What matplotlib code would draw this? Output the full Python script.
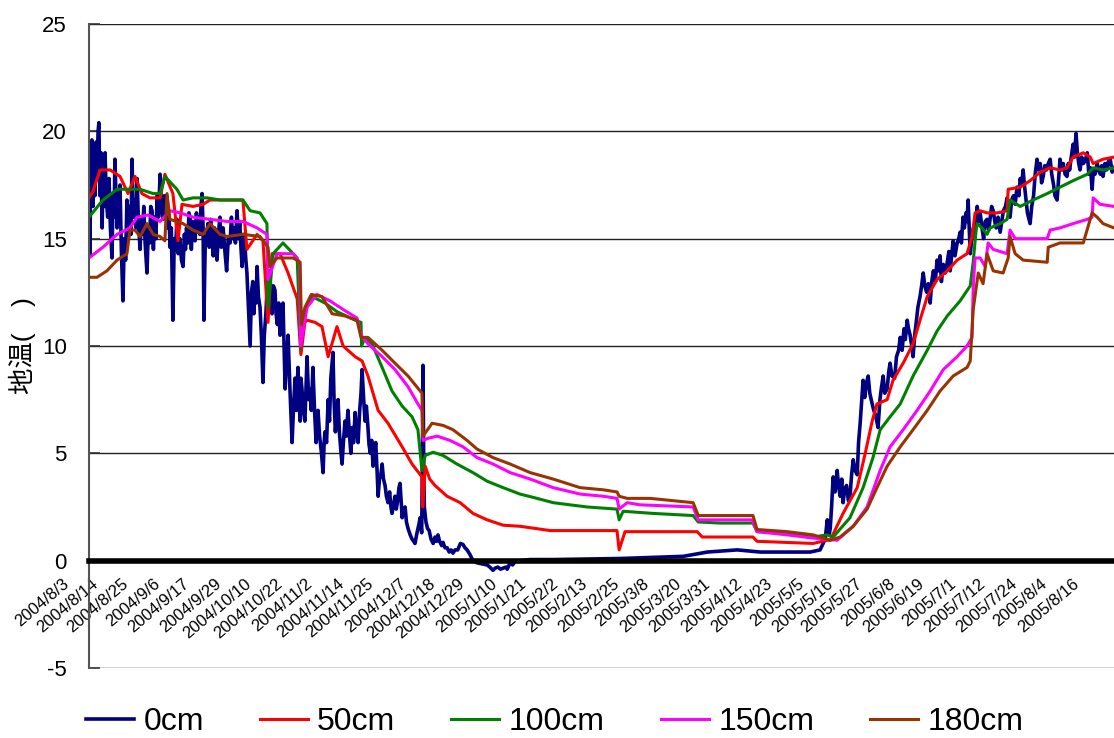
import numpy as np
import pandas as pd
import matplotlib
matplotlib.use('Agg')
import matplotlib.pyplot as plt
import matplotlib.transforms as mtrans

plt.rcParams['font.family'] = ['Liberation Sans', 'Noto Sans CJK JP', 'DejaVu Sans']
plt.rcParams['axes.unicode_minus'] = False

# soil temperature at 5 depths, (days since 2004/8/3, deg C)
start = '2004-08-03'

obs_0cm = [
    (0.0, 16.0), (0.3, 14.2), (0.7, 18.5), (1.1, 19.6), (1.5, 16.5), (1.9, 18.8), (2.2, 17.0), (2.6, 19.5),
    (3.0, 18.0), (3.4, 20.0), (3.7, 20.4), (4.1, 17.0), (4.5, 19.0), (4.9, 15.5), (5.3, 18.0), (5.7, 16.5),
    (6.0, 19.0), (6.5, 16.8), (7.0, 16.0), (7.5, 17.8), (8.0, 15.5), (8.6, 14.1), (9.0, 17.0), (9.4, 16.0),
    (9.7, 18.7), (10.1, 17.0), (10.5, 15.5), (11.0, 16.5), (11.6, 17.5), (12.1, 14.5), (12.7, 12.1),
    (13.2, 15.0), (13.7, 14.0), (14.2, 16.8), (14.7, 15.0), (15.2, 16.5), (15.7, 15.2), (16.1, 18.7),
    (16.6, 16.0), (17.2, 16.8), (17.6, 15.5), (18.0, 17.8), (18.5, 15.8), (19.1, 14.5), (19.6, 16.0),
    (20.0, 15.2), (20.5, 16.5), (21.0, 14.8), (21.7, 13.4), (22.2, 15.5), (22.7, 14.8), (23.1, 16.5),
    (23.6, 16.3), (24.1, 14.5), (24.5, 16.0), (25.0, 15.0), (25.5, 17.0), (26.0, 16.0), (26.6, 18.0),
    (27.1, 16.5), (27.7, 15.9), (28.2, 17.0), (28.6, 16.2), (29.0, 17.0), (29.5, 15.5), (30.0, 16.0),
    (30.3, 14.6), (30.8, 15.5), (31.4, 11.2), (31.9, 15.0), (32.4, 14.5), (32.9, 15.9), (33.4, 14.3),
    (34.0, 15.0), (34.6, 14.0), (35.2, 13.7), (35.7, 15.2), (36.1, 14.5), (36.5, 15.5), (37.0, 14.8),
    (37.4, 16.2), (37.8, 16.0), (38.3, 14.5), (38.8, 15.8), (39.2, 15.0), (39.7, 14.9), (40.2, 16.2),
    (40.6, 15.3), (41.0, 16.0), (41.5, 15.2), (41.9, 16.5), (42.3, 17.1), (42.7, 15.5), (43.0, 11.2),
    (43.5, 14.8), (44.0, 15.0), (44.5, 15.7), (45.0, 14.6), (45.5, 15.9), (46.0, 15.0), (46.5, 14.2),
    (47.0, 15.5), (47.5, 14.5), (47.9, 14.0), (48.4, 15.2), (49.0, 16.0), (49.5, 14.6), (50.2, 15.5),
    (50.8, 14.5), (51.5, 13.5), (52.1, 15.0), (52.8, 14.8), (53.3, 16.0), (53.8, 15.0), (54.3, 15.5),
    (54.8, 14.8), (55.4, 16.3), (55.9, 15.0), (56.4, 15.8), (56.9, 14.5), (57.3, 13.7), (57.8, 15.2),
    (58.2, 15.0), (58.7, 14.0), (59.1, 13.4), (59.6, 12.0), (60.3, 10.0), (60.8, 12.5), (61.3, 13.0),
    (61.7, 11.5), (62.1, 12.9), (62.5, 12.0), (62.9, 13.7), (63.4, 12.3), (64.0, 11.8), (64.5, 10.5),
    (65.1, 8.3), (65.6, 10.5), (66.2, 11.5), (66.7, 12.8), (67.2, 12.0), (67.7, 13.5), (68.1, 12.2),
    (68.5, 11.5), (69.0, 12.8), (69.6, 12.6), (70.0, 11.5), (70.5, 11.0), (71.0, 12.0), (71.5, 10.5),
    (72.0, 11.5), (72.6, 12.0), (73.0, 10.0), (73.4, 8.0), (74.0, 9.5), (74.5, 10.5), (75.2, 8.0),
    (76.0, 5.5), (76.5, 7.0), (77.1, 8.5), (77.6, 7.0), (78.2, 9.0), (78.6, 7.5), (79.0, 6.5),
    (79.3, 8.5), (79.7, 8.0), (80.2, 7.0), (80.8, 6.5), (81.2, 8.0), (81.6, 9.5), (82.2, 7.5),
    (82.7, 8.0), (83.2, 7.0), (83.8, 9.0), (84.4, 7.0), (85.0, 5.5), (85.3, 6.5), (85.7, 7.0),
    (86.3, 5.8), (87.0, 5.0), (87.6, 4.1), (88.0, 5.5), (88.3, 6.0), (88.9, 5.5), (89.5, 7.5),
    (90.0, 6.5), (90.5, 8.5), (91.3, 9.7), (91.7, 7.5), (92.2, 6.0), (92.7, 6.8), (93.2, 7.5),
    (93.7, 6.0), (94.2, 5.2), (94.7, 4.5), (95.2, 5.5), (95.8, 6.5), (96.3, 5.8), (96.9, 7.0),
    (97.4, 6.0), (98.0, 5.0), (98.5, 6.2), (99.0, 5.5), (99.6, 6.9), (100.1, 6.0), (100.7, 5.5),
    (101.3, 7.0), (101.8, 7.8), (102.2, 8.9), (102.8, 7.5), (103.3, 6.5), (103.8, 7.2), (104.4, 6.2),
    (104.8, 5.4), (105.3, 5.0), (105.8, 5.6), (106.3, 4.4), (106.8, 5.0), (107.3, 5.5), (107.8, 4.2),
    (108.2, 3.0), (108.7, 3.8), (109.2, 4.0), (109.7, 4.5), (110.2, 3.8), (110.8, 3.5), (111.3, 3.0),
    (111.9, 2.7), (112.5, 3.2), (113.0, 2.5), (113.4, 2.2), (114.0, 2.6), (114.5, 3.0), (115.0, 2.4),
    (115.5, 2.8), (116.0, 3.4), (116.4, 3.6), (116.8, 2.8), (117.2, 2.0), (117.7, 2.4), (118.3, 2.5),
    (118.8, 1.8), (119.4, 1.5), (120.2, 1.2), (120.9, 1.0), (121.5, 0.9), (122.0, 0.8), (122.6, 1.2),
    (123.1, 1.5), (123.5, 1.7), (123.9, 2.0), (124.5, 1.3), (124.8, 5.0), (125.0, 9.1), (125.3, 4.0),
    (125.5, 2.5), (126.1, 1.8), (126.7, 1.5), (127.3, 1.4), (128.0, 1.0), (128.8, 0.8), (129.5, 1.1),
    (130.1, 0.9), (130.6, 1.2), (131.2, 0.9), (132.0, 0.7), (132.5, 0.85), (133.2, 0.6), (134.0, 0.6),
    (134.8, 0.4), (135.5, 0.5), (136.2, 0.35), (137.0, 0.5), (138.0, 0.5), (139.0, 0.8), (140.0, 0.75),
    (140.7, 0.6), (141.5, 0.5), (142.5, 0.3), (143.7, 0.0), (144.5, -0.05), (145.2, -0.1), (147.0, -0.15),
    (149.0, -0.2), (150.0, -0.3), (151.2, -0.45), (152.0, -0.35), (153.0, -0.3), (154.0, -0.4),
    (155.0, -0.35), (156.0, -0.3), (156.5, -0.4), (157.6, -0.1), (158.5, -0.2), (159.5, -0.05),
    (161.3, 0.0), (165.0, 0.05), (173.7, 0.05), (198.8, 0.1), (222.4, 0.2), (231.4, 0.4), (242.6, 0.5),
    (251.2, 0.4), (261.3, 0.4), (269.9, 0.4), (273.6, 0.5), (275.5, 1.0), (276.3, 1.9), (277.0, 1.2),
    (277.4, 1.5), (277.9, 2.5), (278.5, 3.9), (279.2, 3.2), (280.0, 4.2), (280.5, 3.5), (281.1, 3.0),
    (281.7, 3.8), (282.2, 2.7), (282.8, 3.3), (283.5, 3.5), (284.2, 2.8), (284.8, 3.0), (285.4, 4.0),
    (286.0, 4.7), (286.7, 4.2), (287.5, 4.0), (288.0, 5.5), (288.6, 6.4), (289.2, 7.5), (289.7, 8.4),
    (290.3, 7.6), (291.0, 8.3), (291.6, 8.6), (292.2, 7.8), (293.1, 7.3), (293.7, 7.0), (294.3, 6.8),
    (295.3, 6.2), (296.0, 7.5), (296.5, 8.0), (297.2, 8.6), (297.8, 7.8), (298.7, 8.0), (299.3, 8.8),
    (299.8, 9.2), (300.5, 8.6), (301.5, 8.5), (302.2, 9.5), (303.0, 9.8), (303.6, 10.4), (304.3, 9.8),
    (305.0, 10.8), (305.5, 10.3), (306.2, 11.2), (306.7, 10.8), (307.3, 10.5), (307.9, 10.0), (308.4, 9.5),
    (309.0, 10.5), (309.5, 11.0), (310.2, 11.8), (311.0, 12.3), (311.6, 12.8), (312.2, 13.4), (312.8, 12.8),
    (313.5, 12.5), (314.1, 12.9), (314.8, 12.0), (315.4, 13.0), (316.0, 13.5), (316.7, 13.0), (317.4, 14.0),
    (318.0, 13.5), (318.5, 14.2), (319.0, 13.0), (319.7, 13.8), (320.4, 13.4), (321.2, 13.9), (321.8, 14.4),
    (322.3, 13.5), (322.9, 14.3), (323.4, 14.9), (324.1, 14.2), (324.9, 14.8), (325.5, 15.0), (326.0, 15.3),
    (326.5, 14.8), (327.1, 16.0), (327.6, 15.5), (328.2, 16.2), (328.6, 15.8), (329.0, 16.8), (329.4, 15.5),
    (329.8, 14.3), (330.4, 15.0), (331.0, 15.5), (331.6, 15.2), (332.4, 16.5), (333.0, 15.8), (333.5, 16.2),
    (334.2, 15.5), (334.8, 15.0), (335.4, 15.8), (336.1, 15.9), (336.7, 15.4), (337.2, 15.9), (337.8, 16.5),
    (338.4, 16.3), (339.0, 15.8), (339.5, 15.5), (340.2, 16.0), (341.0, 15.3), (341.6, 15.8), (342.2, 16.3),
    (343.0, 16.5), (343.6, 16.9), (344.1, 16.5), (344.7, 16.0), (345.3, 16.8), (346.0, 17.0), (346.6, 16.6),
    (347.3, 17.4), (348.0, 17.0), (348.5, 17.8), (349.0, 17.5), (349.6, 18.2), (350.0, 17.6), (350.5, 17.0),
    (351.2, 16.2), (352.2, 15.7), (352.8, 16.5), (353.5, 17.0), (354.1, 18.0), (354.8, 18.7), (355.4, 18.2),
    (356.0, 18.5), (356.5, 17.6), (357.1, 17.9), (357.7, 18.4), (358.3, 18.2), (359.0, 18.5), (359.7, 18.7),
    (360.3, 18.0), (361.0, 17.5), (361.5, 17.0), (362.3, 16.8), (362.9, 17.8), (363.4, 18.7), (364.0, 18.2),
    (364.6, 18.5), (365.3, 18.0), (366.0, 17.9), (366.5, 18.5), (367.0, 18.2), (367.6, 18.8), (368.3, 19.4),
    (368.8, 18.8), (369.4, 19.9), (369.9, 19.0), (370.4, 18.5), (370.9, 18.2), (371.5, 18.8), (372.1, 18.5),
    (372.7, 18.6), (373.6, 19.0), (374.2, 18.0), (374.8, 18.3), (375.4, 17.3), (375.9, 18.2), (376.5, 18.0),
    (377.3, 18.5), (377.9, 18.2), (378.5, 18.0), (379.0, 18.4), (379.5, 17.9), (380.2, 18.5), (380.8, 18.2),
    (381.5, 18.6), (382.2, 18.7), (382.9, 18.1), (383.6, 18.3)]

obs_50cm = [
    (0.0, 16.9), (1.5, 17.2), (4.1, 18.2), (7.9, 18.2), (11.6, 17.9), (14.6, 17.1), (17.2, 17.9), (19.8, 17.1),
    (22.8, 16.9), (26.6, 16.9), (28.4, 18.0), (31.4, 17.1), (33.3, 14.9), (34.8, 16.6), (38.9, 16.5),
    (42.7, 16.6), (45.3, 16.8), (49.0, 16.8), (53.9, 16.8), (57.6, 16.8), (59.1, 14.5), (62.9, 15.2),
    (65.1, 14.9), (67.0, 11.1), (68.5, 14.3), (71.5, 14.3), (74.5, 13.4), (77.9, 12.2), (79.3, 9.6),
    (80.8, 11.1), (81.6, 11.2), (84.6, 11.1), (87.2, 10.9), (89.5, 9.5), (92.8, 10.9), (95.1, 10.0),
    (99.6, 9.5), (102.2, 9.3), (104.4, 8.6), (108.2, 7.0), (111.9, 6.4), (117.2, 5.3), (120.9, 4.5),
    (124.6, 3.9), (124.9, 2.5), (125.8, 4.4), (127.5, 3.8), (129.5, 3.5), (134.0, 3.0), (138.9, 2.7),
    (143.7, 2.2), (149.0, 1.9), (155.0, 1.65), (161.3, 1.6), (172.6, 1.4), (183.8, 1.4), (197.6, 1.4),
    (198.4, 0.5), (200.6, 1.35), (227.6, 1.35), (229.5, 1.1), (248.5, 1.1), (250.0, 0.9), (271.0, 0.8),
    (276.3, 0.95), (277.4, 0.95), (282.2, 2.2), (287.5, 3.4), (290.5, 5.0), (293.1, 6.5), (294.9, 7.3),
    (298.7, 7.5), (300.9, 8.4), (304.7, 9.2), (308.4, 10.1), (311.0, 11.2), (313.7, 12.3), (317.4, 13.1),
    (321.2, 13.5), (324.9, 14.0), (328.6, 14.3), (330.5, 15.1), (331.6, 16.2), (333.5, 16.3), (336.1, 16.2),
    (339.9, 16.2), (343.6, 16.3), (344.0, 17.3), (348.5, 17.4), (352.2, 17.7), (356.0, 18.1), (359.7, 18.3),
    (363.4, 18.2), (366.0, 18.3), (368.3, 18.8), (372.1, 19.0), (374.7, 18.8), (375.8, 18.5), (379.5, 18.7),
    (383.6, 18.8)]

obs_100cm = [
    (0.0, 16.0), (5.2, 16.8), (10.5, 17.3), (14.2, 17.3), (19.1, 17.3), (24.0, 17.1), (26.6, 17.1),
    (28.4, 17.9), (32.9, 17.3), (35.2, 16.8), (38.9, 16.9), (44.2, 16.9), (49.0, 16.8), (51.7, 16.8),
    (57.6, 16.8), (60.3, 16.3), (64.0, 16.2), (66.6, 15.7), (67.0, 11.8), (68.9, 14.3), (72.6, 14.8),
    (76.4, 14.3), (77.9, 14.1), (79.2, 9.9), (80.8, 11.7), (83.5, 12.3), (88.3, 12.0), (92.8, 11.6),
    (99.6, 11.2), (101.8, 11.1), (102.0, 10.0), (103.3, 10.4), (105.9, 10.1), (109.7, 9.0), (113.4, 7.9),
    (117.2, 7.2), (120.9, 6.7), (123.1, 6.1), (124.6, 4.2), (125.8, 4.9), (128.8, 5.05), (132.5, 4.9),
    (137.7, 4.5), (143.7, 4.1), (149.0, 3.7), (155.0, 3.4), (161.3, 3.1), (167.7, 2.9), (173.7, 2.7),
    (180.0, 2.6), (186.4, 2.5), (197.6, 2.4), (198.4, 1.9), (199.9, 2.3), (211.1, 2.2), (226.1, 2.1),
    (228.0, 1.8), (236.2, 1.75), (248.5, 1.75), (250.0, 1.35), (261.3, 1.3), (271.0, 1.1), (276.3, 1.2),
    (278.5, 1.1), (284.8, 2.0), (289.7, 3.4), (293.4, 4.8), (296.1, 6.1), (299.8, 6.7), (303.6, 7.3),
    (308.4, 8.6), (313.7, 9.8), (317.4, 10.7), (321.2, 11.4), (326.0, 12.1), (329.8, 12.8), (330.9, 13.9),
    (332.0, 15.4), (332.4, 15.7), (334.2, 15.5), (336.1, 15.2), (337.2, 15.5), (341.0, 15.7), (343.6, 15.9),
    (344.7, 16.8), (348.5, 16.5), (353.3, 16.8), (358.6, 17.1), (363.4, 17.4), (368.3, 17.7), (373.6, 18.0),
    (375.8, 18.3), (379.5, 18.2), (383.6, 18.3)]

obs_150cm = [
    (0.0, 14.1), (5.2, 14.6), (10.5, 15.2), (15.3, 15.5), (18.0, 16.0), (22.1, 16.1), (26.6, 15.8),
    (30.3, 16.3), (34.1, 16.2), (38.9, 16.0), (45.3, 15.9), (51.7, 15.8), (57.6, 15.8), (62.9, 15.5),
    (66.6, 15.2), (67.0, 13.1), (70.4, 14.3), (76.4, 14.3), (78.8, 13.9), (79.2, 10.0), (81.6, 11.8),
    (85.3, 12.4), (90.2, 12.1), (95.1, 11.7), (100.3, 11.3), (101.8, 10.5), (104.4, 10.1), (109.7, 9.5),
    (114.5, 8.9), (119.4, 8.1), (123.1, 7.3), (124.6, 7.0), (125.0, 5.6), (126.9, 5.7), (130.3, 5.8),
    (135.1, 5.6), (140.0, 5.3), (145.2, 4.8), (151.2, 4.5), (157.6, 4.1), (165.1, 3.8), (173.7, 3.4),
    (183.8, 3.1), (192.4, 3.0), (197.6, 2.9), (198.4, 2.4), (201.4, 2.7), (206.2, 2.6), (226.1, 2.5),
    (228.0, 1.9), (248.2, 1.9), (250.0, 1.35), (261.3, 1.2), (271.0, 1.05), (280.0, 0.95), (286.0, 1.6),
    (291.2, 2.5), (296.1, 4.2), (299.8, 5.3), (304.7, 6.1), (309.9, 7.0), (314.8, 7.9), (319.7, 8.9),
    (324.9, 9.5), (328.6, 10.0), (330.5, 10.4), (330.9, 12.7), (331.6, 14.1), (333.5, 14.1), (335.4, 13.7),
    (336.5, 14.8), (338.4, 14.5), (343.6, 14.3), (344.7, 15.4), (346.6, 15.0), (358.6, 15.0), (359.7, 15.4),
    (363.4, 15.5), (368.3, 15.7), (373.6, 15.9), (375.4, 16.0), (375.8, 16.9), (378.4, 16.6), (383.6, 16.5)]

obs_180cm = [
    (0.0, 13.2), (3.0, 13.2), (6.7, 13.5), (10.5, 14.0), (14.2, 14.3), (15.3, 15.4), (17.2, 15.4),
    (19.1, 15.1), (21.7, 15.7), (24.0, 15.2), (26.6, 15.1), (28.4, 14.9), (29.2, 17.1), (30.3, 15.9),
    (35.2, 15.7), (38.9, 15.4), (42.7, 15.2), (45.3, 15.7), (49.0, 15.2), (51.7, 15.1), (57.6, 15.2),
    (64.0, 15.1), (67.0, 14.6), (67.7, 13.7), (70.4, 14.1), (76.4, 14.1), (79.0, 13.9), (79.5, 11.0),
    (80.8, 11.8), (83.2, 12.4), (87.2, 12.3), (91.0, 11.5), (95.8, 11.4), (100.3, 11.2), (101.8, 10.4),
    (104.4, 10.4), (109.7, 9.8), (114.5, 9.2), (119.4, 8.6), (124.6, 7.8), (125.0, 5.8), (128.4, 6.4),
    (132.5, 6.3), (136.2, 6.1), (141.5, 5.6), (145.2, 5.2), (151.2, 4.8), (157.6, 4.5), (165.1, 4.1),
    (173.7, 3.8), (183.8, 3.4), (192.4, 3.3), (197.6, 3.2), (198.4, 3.0), (201.4, 2.9), (210.0, 2.9),
    (226.1, 2.7), (228.0, 2.1), (248.5, 2.1), (250.0, 1.45), (261.3, 1.35), (271.0, 1.2), (277.4, 0.95),
    (281.1, 1.1), (286.0, 1.6), (291.2, 2.4), (294.9, 3.4), (298.7, 4.4), (303.6, 5.3), (308.4, 6.1),
    (313.7, 7.0), (318.5, 7.9), (323.4, 8.6), (328.6, 9.0), (329.8, 9.3), (330.9, 11.7), (332.8, 13.4),
    (334.6, 12.9), (336.1, 14.3), (338.4, 13.5), (342.1, 13.4), (344.0, 14.1), (344.7, 15.1), (346.6, 14.3),
    (349.6, 14.0), (358.6, 13.9), (359.0, 14.6), (363.4, 14.8), (372.1, 14.8), (375.4, 16.2), (377.3, 16.0),
    (379.5, 15.7), (383.6, 15.5)]

series_names = ['0cm', '50cm', '100cm', '150cm', '180cm']
colors = ['#000080', '#ff0000', '#008000', '#ff00ff', '#993300']
widths = [2.6, 2.2, 2.2, 2.2, 2.2]

tick_dates = ['2004/8/3', '2004/8/14', '2004/8/25', '2004/9/6', '2004/9/17', '2004/9/29',
              '2004/10/10', '2004/10/22', '2004/11/2', '2004/11/14', '2004/11/25', '2004/12/7',
              '2004/12/18', '2004/12/29', '2005/1/10', '2005/1/21', '2005/2/2', '2005/2/13',
              '2005/2/25', '2005/3/8', '2005/3/20', '2005/3/31', '2005/4/12', '2005/4/23',
              '2005/5/5', '2005/5/16', '2005/5/27', '2005/6/8', '2005/6/19', '2005/7/1',
              '2005/7/12', '2005/7/24', '2005/8/4', '2005/8/16']

fig = plt.figure(figsize=(11.14, 7.38), dpi=100)
ax = fig.add_axes([0.0799, 0.0949, 0.9201, 0.8726])

all_obs = [obs_0cm, obs_50cm, obs_100cm, obs_150cm, obs_180cm]
for obs, c, w, lab in zip(all_obs, colors, widths, series_names):
    d, t = zip(*obs)
    ax.plot(d, t, '-', color=c, lw=w, label=lab)

ax.set_xlim(0, 383.6)
ax.set_ylim(-5, 25)
ax.set_yticks(np.arange(-5, 26, 5))
ax.grid(axis='y', color='#222222', lw=1.0)
ax.set_axisbelow(True)

# x axis sits on the 0 line
ax.spines['bottom'].set_position(('data', 0))
ax.spines['bottom'].set_linewidth(4)
ax.spines['bottom'].set_color('black')
ax.spines['bottom'].set_zorder(5)
ax.spines['top'].set_visible(False)
ax.spines['right'].set_visible(False)
ax.spines['left'].set_color('#555555')
ax.spines['left'].set_linewidth(1.5)

tick_pos = [(pd.Timestamp(s.replace('/', '-')) - pd.Timestamp(start)).days for s in tick_dates]
ax.set_xticks(tick_pos)
ax.set_xticklabels(tick_dates, rotation=40, ha='right', va='center',
                   rotation_mode='anchor', fontsize=12)
ax.tick_params(axis='x', length=0, pad=15)
offset = mtrans.ScaledTranslation(-22 / 100, 0, fig.dpi_scale_trans)
for lbl in ax.xaxis.get_majorticklabels():
    lbl.set_transform(lbl.get_transform() + offset)

ax.tick_params(axis='y', direction='in', length=8, width=1.2, color='#333333',
               labelsize=16, pad=16)

ax.set_ylabel('地温(　)', fontsize=19)
ax.yaxis.set_label_coords(-0.052, 0.5)

fig.legend(loc='center', bbox_to_anchor=(0.498, 0.022), ncol=5, frameon=False,
           fontsize=23, handlelength=1.5, handletextpad=0.3, columnspacing=1.75)

fig.savefig('out.png', dpi=100)
